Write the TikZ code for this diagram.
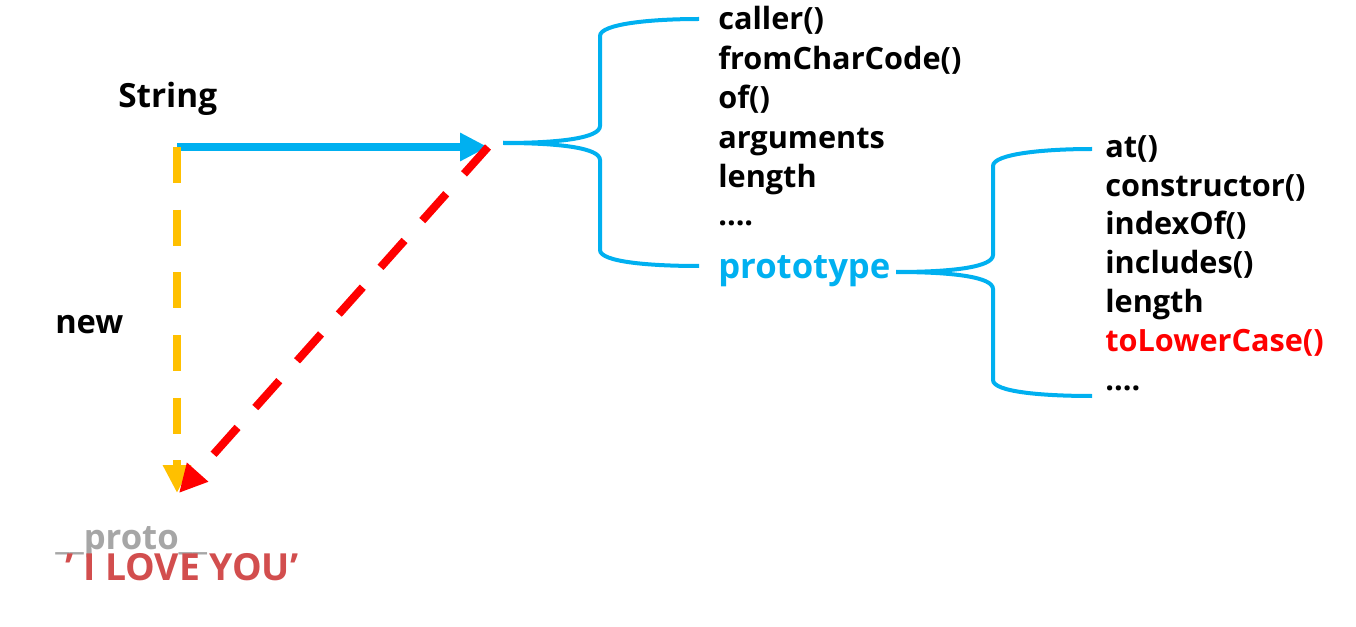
\documentclass[tikz,border=0pt]{standalone}
\usepackage{fontspec}
\setmainfont{Open Sans}
\usetikzlibrary{arrows.meta}
\definecolor{cblue}{HTML}{00B0F0}
\definecolor{corange}{HTML}{FFC000}
\definecolor{cred}{HTML}{FF0000}
\definecolor{cgray}{HTML}{A6A6A6}
\definecolor{clove}{RGB}{210,78,78}
\begin{document}
\begin{tikzpicture}[x=0.75pt,y=-0.75pt,
  lbl/.style={font=\fontsize{23}{27}\selectfont\bfseries, inner sep=0pt, anchor=base west},
  big/.style={font=\fontsize{#1}{#1}\selectfont\bfseries},
  brace/.style={draw=cblue, line width=3pt},
  thickarrow/.style={line width=6pt, -{Triangle[length=21pt,width=20pt]}},
  dasharrow/.style={thickarrow, dash pattern=on 27pt off 20pt}
]
\useasboundingbox (0,0) rectangle (1356,627);
% labels
\node[lbl, big=25] (str) at (118,108) {String};
\node[lbl, big=24.5] (new) at (55,333) {new};
\node[lbl, big=26, text=cgray] (proto) at (55,549) {\_\_proto\_\_};
\node[lbl, big=28, text=clove] (love) at (65,580) {’ I LOVE YOU’};
% first list
\node[lbl] (l1) at (718,30) {caller()};
\node[lbl] (l2) at (718,70) {fromCharCode()};
\node[lbl] (l3) at (718,109) {of()};
\node[lbl] (l4) at (718,149) {arguments};
\node[lbl] (l5) at (718,188) {length};
\node[lbl] (l6) at (718,226) {....};
\node[lbl, big=26, text=cblue] (l7) at (718,278) {prototype};
% second list
\node[lbl] (m1) at (1105,158) {at()};
\node[lbl] (m2) at (1105,197) {constructor()};
\node[lbl] (m3) at (1105,235) {indexOf()};
\node[lbl] (m4) at (1105,274) {includes()};
\node[lbl] (m5) at (1105,312) {length};
\node[lbl, text=cred] (m6) at (1105,351) {toLowerCase()};
\node[lbl] (m7) at (1105,390) {....};
% coordinates
\coordinate (corner) at (177,147);
\coordinate (hub) at (488,147);
\coordinate (tipA) at (177,493);
\coordinate (tipB) at (179,493);
\coordinate (b1mid) at (503,143);
\coordinate (b1top) at (699,19);
\coordinate (b1bot) at (699,266);
\coordinate (b2mid) at (896,272);
\coordinate (b2top) at (1092,149);
\coordinate (b2bot) at (1092,396);
% arrows
\draw[thickarrow, draw=cblue] (corner) -- (hub);
\draw[dasharrow, draw=corange] (corner) -- (tipA);
\draw[dasharrow, draw=cred] (hub) -- (tipB);
% braces
\draw[brace] (b1mid) .. controls (560,143) and (600,138) .. (600,126) -- (600,36) .. controls (600,24) and (650,19) .. (b1top);
\draw[brace] (b1mid) .. controls (560,143) and (600,148) .. (600,160) -- (600,250) .. controls (600,262) and (650,266) .. (b1bot);
\draw[brace] (b2mid) .. controls (953,272) and (993,267) .. (993,255) -- (993,166) .. controls (993,154) and (1043,149) .. (b2top);
\draw[brace] (b2mid) .. controls (953,272) and (993,277) .. (993,289) -- (993,380) .. controls (993,392) and (1043,396) .. (b2bot);
\end{tikzpicture}
\end{document}
